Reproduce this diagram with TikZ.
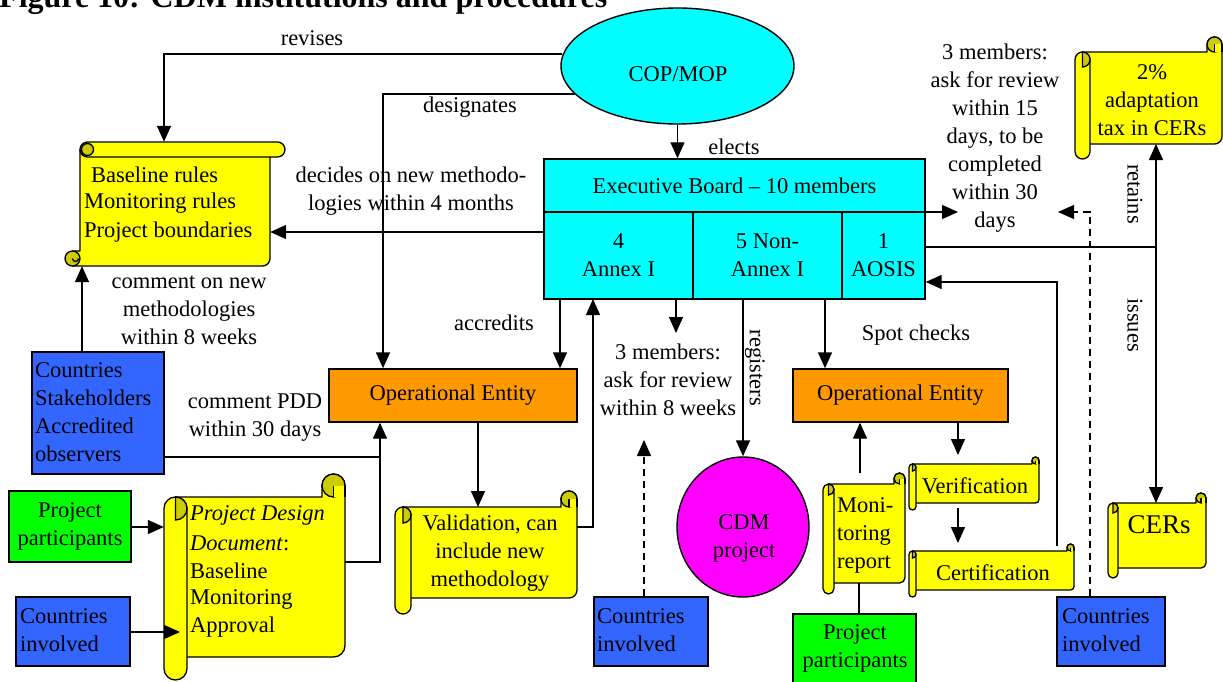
\documentclass[tikz,border=0pt]{standalone}
\usepackage{fontspec}
\setmainfont{Liberation Serif}
\usetikzlibrary{shapes.geometric,arrows.meta}
\definecolor{cyanc}{RGB}{0,255,255}
\definecolor{orangec}{RGB}{255,153,0}
\definecolor{bluec}{RGB}{51,102,255}
\definecolor{greenc}{RGB}{0,255,0}
\definecolor{magentac}{RGB}{255,0,255}
\definecolor{yellowc}{RGB}{255,255,0}
\definecolor{darkc}{RGB}{204,204,0}
\newcommand\dfont{\fontsize{22.5}{28}\selectfont}
\newcommand\tfont{\fontsize{32}{38}\selectfont\bfseries}
\tikzset{
  scrollbody/.style={fill=yellowc,draw=black,line width=1.3pt,line join=round},
  scrolldark/.style={fill=darkc,draw=black,line width=1.3pt},
  scrollline/.style={draw=black,line width=1.3pt},
  box/.style={draw=black,line width=1.4pt,inner sep=0pt,font=\dfont,align=center},
  txt/.style={inner sep=0pt,font=\dfont,align=center},
  txtl/.style={inner sep=0pt,font=\dfont,align=left,anchor=west},
  hold/.style={inner sep=0pt,draw=none},
  conn/.style={draw=black,line width=1.4pt},
  arr/.style={conn,-{Triangle[length=16pt,width=14pt]}},
  dsh/.style={dash pattern=on 7pt off 5pt}
}
% vertical scroll: left top right bottom curl
\newcommand\vscrollshape[5]{%
 \pgfmathsetmacro\sL{#1}\pgfmathsetmacro\sT{#2}\pgfmathsetmacro\sR{#3}\pgfmathsetmacro\sB{#4}%
 \pgfmathsetmacro\sc{#5}\pgfmathsetmacro\sh{#5/2}%
 \filldraw[scrollbody] (\sL+\sh,\sT+\sc) -- (\sR-\sc,\sT+\sc) -- (\sR-\sc,\sT+\sh)
   arc[start angle=180,end angle=0,radius=\sh*1pt] -- (\sR,\sB-\sc-\sh)
   arc[start angle=0,end angle=-90,radius=\sh*1pt] -- (\sL+\sh,\sB-\sc) -- cycle;
 \filldraw[scrolldark] (\sR-\sh,\sT+\sh) circle[radius=\sh*1pt];
 \fill[yellowc] (\sR-\sh,\sT+\sh) rectangle (\sR,\sT+\sc);
 \draw[scrollline] (\sR-\sh,\sT+\sh) -- (\sR-\sh,\sT+\sc) (\sR,\sT+\sh) -- (\sR,\sT+\sc);
 \filldraw[scrollbody] (\sL,\sT+\sc+\sh) arc[start angle=180,end angle=0,radius=\sh*1pt]
   -- (\sL+\sc,\sB-\sh) arc[start angle=0,end angle=-180,radius=\sh*1pt] -- cycle;
 \filldraw[scrolldark] (\sL+\sh,\sT+\sc) arc[start angle=90,end angle=-90,radius=\sh*1pt] -- cycle;
}
% horizontal scroll
\newcommand\hscrollshape[5]{%
 \pgfmathsetmacro\sL{#1}\pgfmathsetmacro\sT{#2}\pgfmathsetmacro\sR{#3}\pgfmathsetmacro\sB{#4}%
 \pgfmathsetmacro\sc{#5}\pgfmathsetmacro\sh{#5/2}%
 \filldraw[scrollbody] (\sL+\sc,\sT+\sh) -- (\sR-\sc,\sT+\sh) -- (\sR-\sc,\sB-\sh)
   arc[start angle=0,end angle=-90,radius=\sh*1pt] -- (\sL+\sh,\sB) -- (\sL+\sh,\sB-\sc) -- (\sL+\sc,\sB-\sc) -- cycle;
 \filldraw[scrolldark] (\sL+\sh,\sB-\sh) circle[radius=\sh*1pt];
 \draw[scrollline] (\sL+\sh,\sB-\sh) arc[start angle=180,end angle=360,radius=0.4*\sh*1pt];
 \filldraw[scrollbody] (\sL+\sc+\sh,\sT) -- (\sR-\sh,\sT) arc[start angle=90,end angle=-90,radius=\sh*1pt]
   -- (\sL+\sc+\sh,\sT+\sc) arc[start angle=-90,end angle=-270,radius=\sh*1pt] -- cycle;
 \filldraw[scrolldark] (\sL+\sc+\sh,\sT+\sh) circle[radius=0.8*\sh*1pt];
}
\begin{document}
\begin{tikzpicture}[x=1pt,y=-1pt]
\useasboundingbox (0,0) rectangle (1223,682);
\clip (0,0) rectangle (1223,682);
\fill[white] (0,0) rectangle (1223,682);

% title (cut at the top)
\node[inner sep=0pt,anchor=base west,font=\tfont] (title) at (-1,8) {Figure 10: CDM institutions and procedures};

% ---------- scroll shapes ----------
\hscrollshape{65}{142}{285}{266}{15}
\vscrollshape{164}{474}{345}{680}{23}
\vscrollshape{395}{491}{577}{614}{16}
\vscrollshape{823}{473}{905}{594}{11}
\vscrollshape{909}{457}{1039}{510}{7}
\vscrollshape{909}{544}{1074}{597}{7}
\vscrollshape{1108}{493}{1206}{578}{10}
\vscrollshape{1075}{37}{1222}{159}{15}

\node[hold,minimum width=190pt,minimum height=124pt] (base) at (175,204) {};
\node[hold,minimum width=181pt,minimum height=206pt] (pdd) at (254.5,577) {};
\node[hold,minimum width=182pt,minimum height=123pt] (val) at (486,552.5) {};
\node[hold,minimum width=82pt,minimum height=121pt] (mon) at (864,533.5) {};
\node[hold,minimum width=130pt,minimum height=53pt] (ver) at (974,483.5) {};
\node[hold,minimum width=165pt,minimum height=53pt] (cert) at (991.5,570.5) {};
\node[hold,minimum width=98pt,minimum height=85pt] (cers) at (1157,535.5) {};
\node[hold,minimum width=147pt,minimum height=122pt] (tax) at (1148.5,98) {};

% scroll texts
\node[txtl] (b1) at (91,175) {Baseline rules};
\node[txtl] (b2) at (84,203) {Monitoring rules};
\node[txtl] (b3) at (84,232) {Project boundaries};
\node[txtl] (p1) at (190,515) {\itshape Project Design};
\node[txtl] (p2) at (190,543) {\textit{Document}:};
\node[txtl] (p3) at (190,571) {Baseline};
\node[txtl] (p4) at (190,599) {Monitoring};
\node[txtl] (p5) at (190,627) {Approval};
\node[txt] (v1) at (490,553) {Validation, can\\include new\\methodology};
\node[txtl] (m1) at (837,535) {Moni-\\toring\\report};
\node[txt] (vt) at (975,486) {Verification};
\node[txt] (ct) at (993,573) {Certification};
\node[txt,font=\fontsize{27}{32}\selectfont] (crt) at (1159,525) {CERs};
\node[txt] (tt) at (1152,100) {2\%\\adaptation\\tax in CERs};

% ---------- boxes ----------
\node[ellipse,draw=black,line width=1.4pt,fill=cyanc,minimum width=233pt,minimum height=116pt,inner sep=0pt] (cop) at (677.5,66) {};
\node[txt] (coptxt) at (678,74) {COP/MOP};

\node[box,fill=cyanc,minimum width=381pt,minimum height=53pt] (eb) at (734.5,185.5) {Executive Board -- 10 members};
\node[box,fill=cyanc,minimum width=149pt,minimum height=87pt] (ann) at (618.5,255.5) {4\\Annex I};
\node[box,fill=cyanc,minimum width=149pt,minimum height=87pt] (non) at (767.5,255.5) {5 Non-\\Annex I};
\node[box,fill=cyanc,minimum width=83pt,minimum height=87pt] (aosis) at (883.5,255.5) {1\\AOSIS};
\coordinate (ebb) at (734.5,299);

\node[box,fill=orangec,minimum width=248pt,minimum height=53pt] (oe1) at (453,395.5) {Operational Entity};
\node[box,fill=orangec,minimum width=215pt,minimum height=53pt] (oe2) at (900.5,395.5) {Operational Entity};

\node[box,fill=bluec,minimum width=132pt,minimum height=122pt] (stake) at (98,413) {};
\node[txtl] (stk) at (35,412) {Countries\\Stakeholders\\Accredited\\observers};
\node[box,fill=greenc,minimum width=122pt,minimum height=71pt] (pp1) at (70,526.5) {Project\\participants};
\node[box,fill=bluec,minimum width=114pt,minimum height=69pt] (ci1) at (73,631.5) {};
\node[txtl] (ci1t) at (20,630) {Countries\\involved};
\node[box,fill=bluec,minimum width=114pt,minimum height=69pt] (ci2) at (651,631.5) {};
\node[txtl] (ci2t) at (597,630) {Countries\\involved};
\node[box,fill=bluec,minimum width=108pt,minimum height=69pt] (ci3) at (1111,631.5) {};
\node[txtl] (ci3t) at (1062,630) {Countries\\involved};
\node[box,fill=greenc,minimum width=123pt,minimum height=78pt] (pp2) at (854.5,653) {};
\node[txt] (pp2t) at (855,648) {Project\\participants};

\node[ellipse,draw=black,line width=1.4pt,fill=magentac,minimum width=132pt,minimum height=140pt,inner sep=0pt] (cdm) at (743,527) {};
\node[txt] (cdmt) at (744,538) {CDM\\project};

% ---------- connectors ----------
\draw[arr] ([xshift=2pt]cop.west |- 0,54) -| (base.north -| 164,0);
\draw[arr] (575,94) -| (oe1.north -| 383,0);
\draw[arr] (cop.south) -- (cop.south |- eb.north);
\draw[arr] (ann.west |- 0,232) -- (base.east |- 0,232);
\draw[arr] (stake.north -| 82,0) -- (base.south -| 82,0);
\coordinate (j1) at (380,457);
\draw[conn] (stake.east |- j1) -- (j1);
\draw[arr] (pdd.east |- 0,562) -| (oe1.south -| j1);
\draw[arr] (pp1.east |- 0,527) -- (pdd.west |- 0,527);
\draw[arr] (ci1.east |- 0,632) -- (180,632);
\draw[arr] (ebb -| 560,0) -- (oe1.north -| 560,0);
\draw[arr] (val.east |- 0,527) -| (ebb -| 593,0);
\draw[arr] (oe1.south -| 478,0) -- (478,507);
\coordinate (m3) at (676,333);
\draw[arr] (ebb -| m3) -- (m3);
\draw[arr] (ebb -| cdm.north) -- (cdm.north);
\draw[arr] (ebb -| 825,0) -- (oe2.north -| 825,0);
\coordinate (m3b) at (644,440);
\draw[arr,dsh] (ci2.north -| m3b) -- (m3b);
\draw[arr] (oe2.south -| 958,0) -- (958,455);
\draw[arr] (958,508) -- (958,543);
\draw[arr] (860,473) -- (oe2.south -| 860,0);
\draw[conn] (859,583) -- (pp2.north -| 859,0);
\draw[arr] (1057,546) |- (aosis.east |- 0,282);
\coordinate (r3) at (958,212);
\draw[arr] (aosis.east |- r3) -- (r3);
\coordinate (r3b) at (1058,212);
\draw[arr,dsh] (ci3.north -| 1090,0) |- (r3b);
\coordinate (j2) at (1156,247);
\draw[conn] (aosis.east |- j2) -- (j2);
\draw[arr] (j2) -- (1156,144);
\draw[arr] (j2) -- (1156,503);

% ---------- labels ----------
\node[txt] (lrev) at (312,38) {revises};
\node[txt] (ldes) at (470,107) {designates};
\node[txt] (ldec) at (411,191) {decides on new methodo-\\logies within 4 months};
\node[txt] (lcom) at (189,310) {comment on new\\methodologies\\within 8 weeks};
\node[txt] (lacc) at (494,323) {accredits};
\node[txt] (lele) at (734,147) {elects};
\node[txt] (lr3) at (995,138) {3 members:\\ask for review\\within 15\\days, to be\\completed\\within 30\\days};
\node[txt] (lm3) at (668,380) {3 members:\\ask for review\\within 8 weeks};
\node[txt,rotate=-90] (lreg) at (755,368) {registers};
\node[txt] (lspot) at (916,335) {Spot checks};
\node[txt] (lpdd) at (255,418) {comment PDD\\within 30 days};
\node[txt,rotate=-90] (lret) at (1135,194) {retains};
\node[txt,rotate=-90] (liss) at (1135,325) {issues};
\end{tikzpicture}
\end{document}
